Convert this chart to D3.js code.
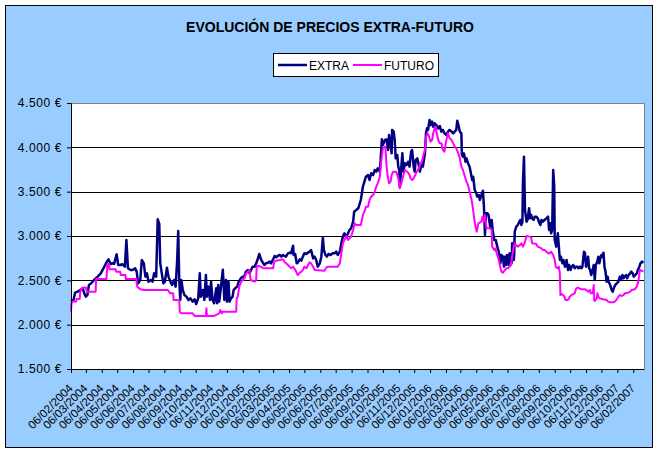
<!DOCTYPE html>
<html><head><meta charset="utf-8">
<script src="https://cdn.jsdelivr.net/npm/d3@7"></script>
<style>
html,body{margin:0;padding:0;background:#fff;}
svg{display:block;font-family:"Liberation Sans",Arial,sans-serif;}
</style></head><body>
<svg id="chart" width="660" height="454"></svg>
<script>
const chartTitle = "EVOLUCIÓN DE PRECIOS EXTRA-FUTURO";
const seriesNames = ["EXTRA", "FUTURO"];
const seriesColors = ["#000080", "#FF00FF"];
const xTickLabels = ["06/02/2004","06/03/2004","06/04/2004","06/05/2004","06/06/2004","06/07/2004","06/08/2004","06/09/2004","06/10/2004","06/11/2004","06/12/2004",
  "06/01/2005","06/02/2005","06/03/2005","06/04/2005","06/05/2005","06/06/2005","06/07/2005","06/08/2005","06/09/2005","06/10/2005","06/11/2005","06/12/2005",
  "06/01/2006","06/02/2006","06/03/2006","06/04/2006","06/05/2006","06/06/2006","06/07/2006","06/08/2006","06/09/2006","06/10/2006","06/11/2006","06/12/2006",
  "06/01/2007","06/02/2007"];
const xAxisLimits = ["2004-02-06", "2007-02-27"];
const yTickValues = [1500, 2000, 2500, 3000, 3500, 4000, 4500];

const extraDates = [
"2004-02-06","2004-02-11","2004-02-14","2004-02-19","2004-02-24","2004-02-29",
"2004-03-03","2004-03-06","2004-03-09","2004-03-12","2004-03-17","2004-03-22","2004-03-29",
"2004-04-04","2004-04-11","2004-04-16","2004-04-19","2004-04-23","2004-04-27","2004-04-30",
"2004-05-05","2004-05-08","2004-05-12","2004-05-16","2004-05-21","2004-05-24","2004-05-27",
"2004-06-01","2004-06-05","2004-06-10","2004-06-13","2004-06-16","2004-06-20","2004-06-23","2004-06-27","2004-06-30",
"2004-07-03","2004-07-06","2004-07-11","2004-07-14","2004-07-17","2004-07-21","2004-07-24","2004-07-27","2004-07-29",
"2004-08-01","2004-08-04","2004-08-07","2004-08-11","2004-08-14","2004-08-18","2004-08-21","2004-08-25","2004-08-28","2004-08-31",
"2004-09-02","2004-09-04","2004-09-06","2004-09-08","2004-09-11","2004-09-14","2004-09-18","2004-09-22","2004-09-26","2004-09-30",
"2004-10-04","2004-10-07","2004-10-11","2004-10-14","2004-10-16","2004-10-20","2004-10-23","2004-10-26","2004-10-28","2004-10-31",
"2004-11-03","2004-11-05","2004-11-08","2004-11-11","2004-11-15","2004-11-17","2004-11-19","2004-11-21","2004-11-24","2004-11-28",
"2004-12-01","2004-12-04","2004-12-06","2004-12-09","2004-12-11","2004-12-14","2004-12-17","2004-12-19","2004-12-22","2004-12-26","2004-12-29",
"2005-01-02","2005-01-06","2005-01-09","2005-01-12","2005-01-16","2005-01-19","2005-01-22","2005-01-25","2005-01-29",
"2005-02-01","2005-02-04","2005-02-07","2005-02-11","2005-02-14","2005-02-17","2005-02-20","2005-02-24","2005-02-27",
"2005-03-02","2005-03-06","2005-03-09","2005-03-12","2005-03-15","2005-03-19","2005-03-22","2005-03-25","2005-03-28","2005-03-31",
"2005-04-04","2005-04-07","2005-04-10","2005-04-14","2005-04-15","2005-04-18","2005-04-21","2005-04-23","2005-04-27","2005-04-30",
"2005-05-03","2005-05-06","2005-05-10","2005-05-13","2005-05-16","2005-05-19","2005-05-23","2005-05-26","2005-05-29",
"2005-06-01","2005-06-05","2005-06-08","2005-06-11","2005-06-13","2005-06-16","2005-06-19","2005-06-22","2005-06-26","2005-06-30",
"2005-07-04","2005-07-07","2005-07-10","2005-07-14","2005-07-17","2005-07-20","2005-07-23","2005-07-27","2005-07-30",
"2005-08-02","2005-08-05","2005-08-09","2005-08-11","2005-08-15","2005-08-19","2005-08-24","2005-08-28","2005-08-31",
"2005-09-03","2005-09-07","2005-09-10","2005-09-13","2005-09-17","2005-09-20","2005-09-23","2005-09-26","2005-09-30",
"2005-10-02","2005-10-04","2005-10-06","2005-10-10","2005-10-13","2005-10-16","2005-10-18","2005-10-21","2005-10-23","2005-10-24","2005-10-27","2005-10-29","2005-10-31",
"2005-11-03","2005-11-05","2005-11-07","2005-11-08","2005-11-11","2005-11-13","2005-11-15","2005-11-18","2005-11-21","2005-11-24","2005-11-27","2005-11-30",
"2005-12-02","2005-12-05","2005-12-07","2005-12-09","2005-12-12","2005-12-15","2005-12-17","2005-12-20","2005-12-23","2005-12-27","2005-12-29","2005-12-31",
"2006-01-02","2006-01-05","2006-01-07","2006-01-10","2006-01-12","2006-01-15","2006-01-18","2006-01-22","2006-01-25","2006-01-28","2006-01-31",
"2006-02-03","2006-02-07","2006-02-10","2006-02-13","2006-02-17","2006-02-20","2006-02-23","2006-02-26","2006-02-28",
"2006-03-03","2006-03-05","2006-03-08","2006-03-09","2006-03-11","2006-03-13","2006-03-16","2006-03-18","2006-03-21","2006-03-24","2006-03-26","2006-03-29","2006-03-31",
"2006-04-03","2006-04-06","2006-04-08","2006-04-11","2006-04-13","2006-04-16","2006-04-19","2006-04-21","2006-04-23","2006-04-25","2006-04-28","2006-04-30",
"2006-05-03","2006-05-06","2006-05-08","2006-05-11","2006-05-14","2006-05-17","2006-05-19","2006-05-22","2006-05-23","2006-05-25","2006-05-28","2006-05-30",
"2006-06-01","2006-06-03","2006-06-05","2006-06-07","2006-06-08","2006-06-10","2006-06-12","2006-06-14","2006-06-15","2006-06-18","2006-06-19","2006-06-20","2006-06-23","2006-06-26","2006-06-28",
"2006-07-01","2006-07-03","2006-07-05","2006-07-06","2006-07-08","2006-07-10","2006-07-13","2006-07-15","2006-07-18","2006-07-20","2006-07-22","2006-07-24","2006-07-27","2006-07-29",
"2006-08-01","2006-08-04","2006-08-06","2006-08-09","2006-08-11","2006-08-14","2006-08-17","2006-08-21","2006-08-24","2006-08-26","2006-08-28","2006-08-30",
"2006-09-01","2006-09-03","2006-09-05","2006-09-06","2006-09-09","2006-09-12","2006-09-14","2006-09-16","2006-09-18","2006-09-21","2006-09-23","2006-09-26","2006-09-29",
"2006-10-02","2006-10-04","2006-10-07","2006-10-09","2006-10-12","2006-10-15","2006-10-17","2006-10-20","2006-10-22","2006-10-25","2006-10-28","2006-10-30",
"2006-11-02","2006-11-04","2006-11-06","2006-11-08","2006-11-10","2006-11-12","2006-11-14","2006-11-16","2006-11-19","2006-11-21","2006-11-23","2006-11-25","2006-11-28","2006-11-30",
"2006-12-02","2006-12-04","2006-12-06","2006-12-08","2006-12-10","2006-12-12","2006-12-14","2006-12-16","2006-12-18","2006-12-20","2006-12-23","2006-12-26","2006-12-28","2006-12-30",
"2007-01-02","2007-01-05","2007-01-08","2007-01-11","2007-01-13","2007-01-16","2007-01-18","2007-01-20","2007-01-23","2007-01-25","2007-01-28","2007-01-31",
"2007-02-02","2007-02-05","2007-02-07","2007-02-10","2007-02-13","2007-02-15","2007-02-18","2007-02-20","2007-02-23","2007-02-26"];
const extraValues = [
2260,2280,2361,2372,2390,2410,
2350,2316,2335,2448,2470,2504,2542,
2579,2654,2711,2737,2685,2692,2685,
2793,2673,2673,2681,2654,2955,2636,
2617,2617,2636,2598,2466,2504,2729,2692,2542,
2579,2485,2504,2485,2579,2542,3188,3140,2692,
2579,2466,2485,2643,2542,2485,2448,2504,2429,2729,
3057,2504,2278,2504,2391,2335,2316,2278,2297,2260,
2286,2233,2297,2579,2316,2391,2278,2560,2316,2429,
2278,2485,2278,2241,2410,2241,2448,2260,2410,2620,
2278,2504,2260,2485,2260,2297,2316,2391,2410,2429,2485,
2523,2542,2542,2598,2617,2579,2617,2654,2654,
2692,2737,2797,2729,2699,2673,2692,2699,2711,
2692,2737,2775,2760,2775,2786,2767,2786,2775,2767,
2805,2812,2805,2891,2786,2797,2692,2699,2737,2722,
2767,2805,2797,2812,2823,2842,2748,2767,2729,
2654,2692,2767,2981,2842,2786,2767,2797,2786,2805,
2805,2823,2786,2823,2917,2993,3030,2993,3030,
3068,3087,3162,3274,3293,3312,3406,3556,3613,
3669,3688,3632,3707,3688,3744,3726,3763,3726,
3895,4090,4026,4083,4090,3970,4139,4026,3932,4196,4177,4083,3876,
3914,3782,3744,3556,3782,3932,3726,3820,3801,3838,3782,3951,
3970,3782,3726,3857,3876,3801,3726,3801,3782,3932,4158,4214,
4196,4308,4252,4290,4233,4271,4252,4214,4240,4177,4196,
4158,4139,4177,4196,4177,4158,4177,4196,4301,
4233,4177,4158,3914,3895,3932,3838,3876,3820,3782,3726,3632,3669,
3519,3481,3444,3462,3406,3462,3511,3331,3011,3256,3256,3237,
3105,3181,3068,2955,2955,2880,2842,2767,2692,2786,2767,2654,
2767,2673,2786,2767,2673,2805,2748,2692,2917,2729,2786,3049,3105,3124,3150,
3181,3124,3162,3594,3895,3293,3162,3181,3312,3199,3237,3199,3181,3218,
3218,3199,3162,3124,3181,3162,3181,3199,3218,3068,3143,3030,
3068,3744,3556,2955,2880,3030,2880,2729,2767,2692,2729,2654,2729,
2617,2673,2617,2654,2673,2636,2654,2654,2636,2654,2636,2654,
2823,2805,2654,2692,2767,2636,2617,2560,2617,2673,2504,2673,2711,2767,
2692,2748,2786,2767,2812,2654,2598,2485,2542,2485,2448,2391,2372,2410,
2448,2466,2485,2542,2504,2560,2523,2542,2560,2523,2560,2579,
2598,2579,2542,2560,2579,2617,2654,2692,2711,2699];

const futuroDates = [
"2004-02-06","2004-02-07","2004-02-09","2004-02-16","2004-02-17","2004-02-23","2004-02-24","2004-02-27","2004-02-29",
"2004-03-06","2004-03-08","2004-03-25","2004-03-26",
"2004-04-15","2004-04-17","2004-04-20","2004-04-21",
"2004-05-03","2004-05-04","2004-05-12","2004-05-13","2004-05-22","2004-05-23",
"2004-06-12","2004-06-14","2004-06-20","2004-06-28",
"2004-08-13","2004-08-17","2004-08-23","2004-08-24",
"2004-09-04","2004-09-05","2004-09-08","2004-09-30",
"2004-10-04","2004-10-26","2004-10-27","2004-10-28",
"2004-11-11","2004-11-21","2004-11-23","2004-11-26","2004-11-28",
"2004-12-24","2004-12-25","2004-12-27","2004-12-30",
"2005-01-03","2005-01-06","2005-01-09","2005-01-12","2005-01-16","2005-01-19","2005-01-21","2005-01-29",
"2005-02-01","2005-02-02","2005-02-11","2005-02-14",
"2005-03-06","2005-03-08","2005-03-12","2005-03-19","2005-03-25","2005-03-28","2005-03-31",
"2005-04-04","2005-04-07","2005-04-10","2005-04-14","2005-04-16","2005-04-20","2005-04-23","2005-04-27","2005-04-30",
"2005-05-03","2005-05-06","2005-05-10","2005-05-13","2005-05-16","2005-05-19","2005-05-23","2005-05-26",
"2005-06-14","2005-06-17","2005-06-20",
"2005-07-10","2005-07-14","2005-07-17","2005-07-20","2005-07-23","2005-07-27","2005-07-30",
"2005-08-02","2005-08-05","2005-08-09","2005-08-12","2005-08-15","2005-08-24","2005-08-28","2005-08-31",
"2005-09-03","2005-09-07","2005-09-10","2005-09-13","2005-09-17","2005-09-20","2005-09-23","2005-09-26","2005-09-30",
"2005-10-03","2005-10-06","2005-10-10","2005-10-11","2005-10-13","2005-10-15","2005-10-18","2005-10-21","2005-10-23","2005-10-26",
"2005-11-01","2005-11-05","2005-11-07","2005-11-08","2005-11-12","2005-11-15","2005-11-18","2005-11-24","2005-11-27","2005-11-29",
"2005-12-02","2005-12-05","2005-12-08","2005-12-11","2005-12-15","2005-12-19","2005-12-22","2005-12-24","2005-12-27","2005-12-29",
"2006-01-01","2006-01-04","2006-01-07","2006-01-10","2006-01-12","2006-01-15","2006-01-17","2006-01-19","2006-01-22","2006-01-25","2006-01-28","2006-01-31",
"2006-02-03","2006-02-05","2006-02-08","2006-02-10","2006-02-13","2006-02-17","2006-02-20","2006-02-23","2006-02-26",
"2006-03-02","2006-03-05","2006-03-08","2006-03-11","2006-03-15","2006-03-18","2006-03-21","2006-03-24","2006-03-28","2006-03-30",
"2006-04-02","2006-04-04","2006-04-07","2006-04-10","2006-04-16","2006-04-18","2006-04-21","2006-04-23","2006-04-26",
"2006-05-02","2006-05-06","2006-05-07","2006-05-11","2006-05-14","2006-05-15","2006-05-19","2006-05-22","2006-05-25","2006-05-28",
"2006-06-01","2006-06-04","2006-06-07","2006-06-10","2006-06-13","2006-06-15","2006-06-18","2006-06-20","2006-06-23","2006-06-26","2006-06-30",
"2006-07-03","2006-07-06","2006-07-09","2006-07-13","2006-07-19","2006-07-22","2006-07-24",
"2006-08-01","2006-08-04","2006-08-11","2006-08-14","2006-08-17","2006-08-21","2006-08-24","2006-08-27","2006-08-30",
"2006-09-03","2006-09-06","2006-09-08","2006-09-11","2006-09-14","2006-09-16","2006-09-17","2006-09-19","2006-09-22","2006-09-25","2006-09-27","2006-09-30",
"2006-10-03","2006-10-05","2006-10-09","2006-10-15","2006-10-18","2006-10-21","2006-10-28",
"2006-11-04","2006-11-07","2006-11-10","2006-11-14","2006-11-15","2006-11-19","2006-11-21","2006-11-22","2006-11-23","2006-11-27","2006-11-28","2006-11-30",
"2006-12-03","2006-12-09","2006-12-16","2006-12-19","2006-12-23","2006-12-29",
"2007-01-01","2007-01-05","2007-01-08","2007-01-11","2007-01-14","2007-01-18","2007-01-21","2007-01-27","2007-01-31",
"2007-02-03","2007-02-09","2007-02-13","2007-02-16","2007-02-19","2007-02-22","2007-02-26"];
const futuroValues = [
2147,2241,2260,2260,2290,2290,2372,2410,2418,
2418,2372,2372,2515,
2515,2681,2681,2624,
2624,2598,2598,2560,2560,2515,
2515,2429,2400,2391,
2391,2354,2354,2278,
2278,2147,2128,2128,
2098,2098,2184,2098,
2098,2128,2165,2128,2147,
2147,2290,2316,2429,
2485,2504,2523,2572,2598,2617,2504,2485,
2504,2665,2654,2636,
2636,2711,2722,2729,2737,2711,2692,
2673,2654,2636,2654,2636,2598,2560,2587,2598,
2617,2654,2636,2673,2703,2692,2654,2617,
2609,2636,2654,
2654,2692,2805,2917,2955,3000,2955,
2974,2993,3068,3143,3124,3124,3237,3275,
3331,3331,3406,3444,3462,3500,3556,3594,3669,
3857,3989,4008,3989,3801,3688,3594,3613,3688,3726,
3726,3650,3575,3538,3613,3688,3744,3715,3688,3650,
3632,3650,3688,3726,3763,3820,3857,3914,3970,4120,
4158,4120,4064,4083,4158,4214,4233,4158,4083,4045,4045,3970,
3951,4026,4120,4158,4102,4083,4045,4008,3989,
3932,3876,3782,3744,3669,3613,3575,3500,3406,3331,
3199,3124,3049,3143,3162,3218,3162,3237,3087,
3087,3068,2880,2842,2861,2823,2748,2673,2598,2587,
2617,2636,2636,2654,2673,2767,2880,2917,2898,2880,2898,
2917,2880,2917,3000,2993,2985,2917,
2910,2880,2861,2842,2842,2823,2805,2805,2823,
2786,2729,2654,2636,2654,2579,2335,2346,2335,2316,2278,2278,
2286,2316,2335,2354,2410,2418,2399,
2399,2391,2372,2391,2354,2354,2448,2278,2267,2297,2354,2316,
2297,2286,2278,2260,2252,2252,
2260,2286,2316,2335,2323,2335,2354,2361,2372,
2391,2399,2429,2485,2617,2609,2598];

// ---------- drawing ----------
const W = 660, H = 454;
const plot = {left: 71, right: 644, top: 103, bottom: 369};
const parseISO = d3.timeParse("%Y-%m-%d");
const parseES = d3.timeParse("%d/%m/%Y");

const extra = extraDates.map((d, i) => ({date: parseISO(d), value: extraValues[i]}));
const futuro = futuroDates.map((d, i) => ({date: parseISO(d), value: futuroValues[i]}));
const tickDates = xTickLabels.map(parseES);

const x = d3.scaleTime().domain(xAxisLimits.map(parseISO)).range([plot.left, plot.right]);
const y = d3.scaleLinear().domain([yTickValues[0], yTickValues[yTickValues.length - 1]]).range([plot.bottom, plot.top]);

const esLocale = d3.formatLocale({decimal: ",", thousands: ".", grouping: [3], currency: ["", " €"]});
const fmtEuro = esLocale.format("$,.0f");

const svg = d3.select("#chart");

// chart area background
svg.append("rect").attr("x", 5.5).attr("y", 5.5).attr("width", 647).attr("height", 442)
  .attr("fill", "#99CCFF").attr("stroke", "#000").attr("stroke-width", 1);

// plot area
svg.append("rect").attr("x", plot.left).attr("y", plot.top)
  .attr("width", plot.right - plot.left).attr("height", plot.bottom - plot.top).attr("fill", "#fff");

// gridlines
svg.append("g").selectAll("line").data(yTickValues.slice(1)).join("line")
  .attr("x1", plot.left).attr("x2", plot.right)
  .attr("y1", d => Math.round(y(d)) + 0.5).attr("y2", d => Math.round(y(d)) + 0.5)
  .attr("stroke", "#000").attr("stroke-width", 1);

// plot border (top / right grey)
svg.append("path")
  .attr("d", `M${plot.left},${plot.top + 0.5}H${plot.right + 0.5}V${plot.bottom}`)
  .attr("fill", "none").attr("stroke", "#808080").attr("stroke-width", 1);

// series
const line = d3.line().x(d => x(d.date)).y(d => y(d.value));
svg.append("path").datum(extra).attr("d", line)
  .attr("fill", "none").attr("stroke", seriesColors[0]).attr("stroke-width", 2.5).attr("stroke-linejoin", "round");
svg.append("path").datum(futuro).attr("d", line)
  .attr("fill", "none").attr("stroke", seriesColors[1]).attr("stroke-width", 2).attr("stroke-linejoin", "round");

// y axis
const yAxis = svg.append("g").attr("transform", `translate(${plot.left},0)`)
  .call(d3.axisLeft(y).tickValues(yTickValues).tickSize(4).tickSizeOuter(0).tickPadding(5).tickFormat(fmtEuro));
yAxis.select(".domain").attr("stroke", "#000");
yAxis.selectAll("line").attr("stroke", "#000");
yAxis.selectAll("text").attr("font-size", 12).attr("fill", "#000")
  .attr("font-family", "'Liberation Sans', Arial, sans-serif").style("letter-spacing", "0.6px");

// x axis
const xAxis = svg.append("g").attr("transform", `translate(0,${plot.bottom})`)
  .call(d3.axisBottom(x).tickValues(tickDates).tickSize(4).tickSizeOuter(0)
    .tickFormat((d, i) => xTickLabels[i]));
xAxis.select(".domain").attr("stroke", "#000");
xAxis.selectAll("line").attr("stroke", "#000");
xAxis.selectAll("text")
  .attr("font-size", 11.5).attr("fill", "#000").attr("font-family", "'Liberation Sans', Arial, sans-serif")
  .attr("text-anchor", "end").attr("x", 0).attr("y", 0).attr("dy", 0)
  .attr("transform", "translate(2,20) rotate(-45)");

// title
svg.append("text").attr("x", 330).attr("y", 32).attr("text-anchor", "middle")
  .attr("font-size", 14).attr("font-weight", "bold").attr("fill", "#000").text(chartTitle);

// legend
const lg = svg.append("g");
lg.append("rect").attr("x", 273.5).attr("y", 53.5).attr("width", 165).attr("height", 23)
  .attr("fill", "#fff").attr("stroke", "#000").attr("stroke-width", 1);
const legendItems = [{x: 278}, {x: 353}];
seriesNames.forEach((name, i) => {
  const lx = legendItems[i].x;
  lg.append("line").attr("x1", lx).attr("x2", lx + 29).attr("y1", 65).attr("y2", 65)
    .attr("stroke", seriesColors[i]).attr("stroke-width", i === 0 ? 2.5 : 2);
  lg.append("text").attr("x", lx + 31).attr("y", 69.5).attr("font-size", 12).attr("fill", "#000").text(name);
});
</script>
</body></html>
